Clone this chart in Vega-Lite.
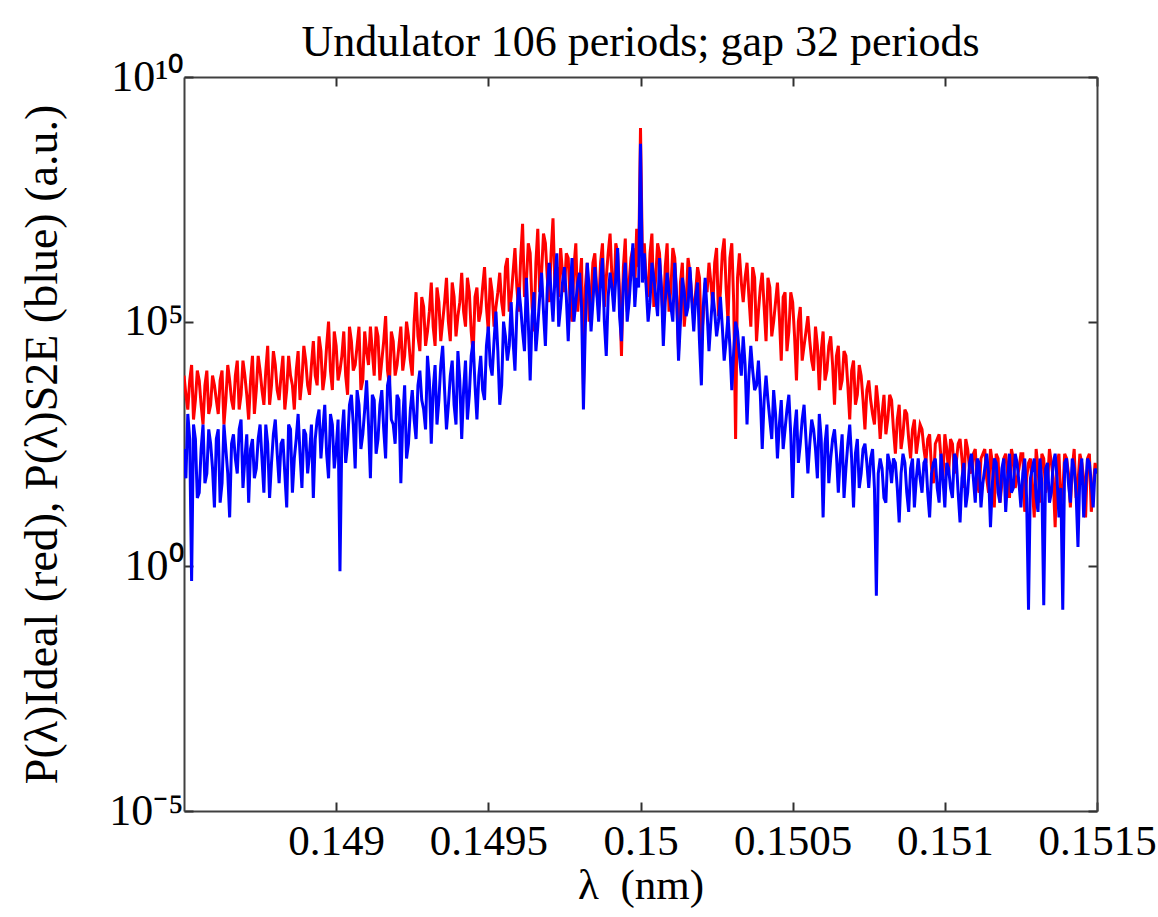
{
  "$schema": "https://vega.github.io/schema/vega-lite/v6.json",
  "autosize": {"type": "none"},
  "width": 913,
  "height": 734,
  "padding": {"left": 184, "top": 77, "right": 61, "bottom": 106},
  "background": "white",
  "config": {
    "font": "Liberation Serif, serif",
    "view": {"stroke": null},
    "title": {"font": "Liberation Serif, serif", "fontWeight": "normal"},
    "axis": {"grid": false, "domainColor": "#404040", "domainWidth": 2, "tickColor": "#303030", "tickWidth": 2, "labelColor": "black", "titleColor": "black", "labelFont": "Liberation Serif, serif", "titleFont": "Liberation Serif, serif", "titleFontWeight": "normal"}
  },
  "title": {"text": "Undulator 106 periods; gap 32 periods", "fontSize": 44, "fontWeight": "normal", "font": "Liberation Serif, serif", "color": "black", "anchor": "middle", "baseline": "alphabetic", "offset": -45},
  "data": {"values": [
    {"l":0.1485,"r":7.9e3,"b":2.5e2},{"l":0.1485125,"r":1.6e3,"b":1.3e3},{"l":0.148525,"r":1.3e4,"b":0.5},{"l":0.1485375,"r":2.5e3,"b":4e2},{"l":0.14855,"r":6.3e3,"b":32},{"l":0.1485625,"r":7.9e2,"b":7.9e2},{"l":0.148575,"r":1e4,"b":79},{"l":0.1485875,"r":2e3,"b":3.2e2},
    {"l":0.1486,"r":5e3,"b":16},{"l":0.1486125,"r":1.3e3,"b":6.3e2},{"l":0.148625,"r":1e4,"b":50},{"l":0.1486375,"r":2.5e3,"b":2.5e2},{"l":0.14865,"r":6.3e3,"b":10},{"l":0.1486625,"r":1.6e3,"b":5e2},{"l":0.148675,"r":1.6e4,"b":79},{"l":0.1486875,"r":3.2e3,"b":1e3},
    {"l":0.1487,"r":7.9e3,"b":1.6e2},{"l":0.1487125,"r":1e3,"b":20},{"l":0.148725,"r":2e4,"b":4e2},{"l":0.1487375,"r":4e3,"b":1e2},{"l":0.14875,"r":1e4,"b":7.9e2},{"l":0.1487625,"r":2e3,"b":32},{"l":0.148775,"r":3.2e4,"b":3.2e2},{"l":0.1487875,"r":5e3,"b":1.3e2},
    {"l":0.1488,"r":1.3e4,"b":1e3},{"l":0.1488125,"r":2.5e3,"b":50},{"l":0.148825,"r":2e4,"b":4e2},{"l":0.1488375,"r":4e3,"b":16},{"l":0.14885,"r":7.9e3,"b":6.3e2},{"l":0.1488625,"r":1.6e3,"b":1.6e2},{"l":0.148875,"r":2.5e4,"b":1.3e3},{"l":0.1488875,"r":6.3e3,"b":40},
    {"l":0.1489,"r":1.6e4,"b":5e2},{"l":0.1489125,"r":3.2e3,"b":2e2},{"l":0.148925,"r":4e4,"b":25},{"l":0.1489375,"r":5e3,"b":1e3},{"l":0.14895,"r":2.5e4,"b":1.6e2},{"l":0.1489625,"r":7.9e3,"b":2e3},{"l":0.148975,"r":1e5,"b":63},{"l":0.1489875,"r":4e3,"b":7.9e2},
    {"l":0.149,"r":3.2e4,"b":2.5e2},{"l":0.1490125,"r":1e4,"b":0.79},{"l":0.149025,"r":6.3e4,"b":1.6e3},{"l":0.1490375,"r":3.2e3,"b":3.2e2},{"l":0.14905,"r":4e4,"b":3.2e3},{"l":0.1490625,"r":1.3e4,"b":1e2},{"l":0.149075,"r":7.9e4,"b":2e3},{"l":0.1490875,"r":6.3e3,"b":5e2},
    {"l":0.1491,"r":2.5e4,"b":6.3e3},{"l":0.1491125,"r":7.9e4,"b":63},{"l":0.149125,"r":7.9e3,"b":2.5e3},{"l":0.1491375,"r":5e4,"b":4e2},{"l":0.14915,"r":1.6e4,"b":4e3},{"l":0.1491625,"r":1.3e5,"b":1.6e2},{"l":0.149175,"r":5e3,"b":7.9e3},{"l":0.1491875,"r":4e4,"b":7.9e2},
    {"l":0.1492,"r":1.3e4,"b":3.2e3},{"l":0.1492125,"r":7.9e4,"b":50},{"l":0.149225,"r":2e4,"b":5e3},{"l":0.1492375,"r":5e4,"b":3.2e2},{"l":0.14925,"r":7.9e3,"b":4e3},{"l":0.1492625,"r":4e5,"b":4e2},{"l":0.149275,"r":2.5e4,"b":1e4},{"l":0.1492875,"r":2e5,"b":1.6e3},
    {"l":0.1493,"r":6.3e4,"b":2e4},{"l":0.1493125,"r":6.3e5,"b":3.2e2},{"l":0.149325,"r":3.2e4,"b":1.3e4},{"l":0.1493375,"r":2.5e5,"b":2.5e3},{"l":0.14935,"r":1e5,"b":3.2e4},{"l":0.1493625,"r":7.9e5,"b":6.3e2},{"l":0.149375,"r":4e4,"b":7.9e3},{"l":0.1493875,"r":3.2e5,"b":2e3},
    {"l":0.1494,"r":1.3e5,"b":2.5e4},{"l":0.1494125,"r":1e6,"b":4e2},{"l":0.149425,"r":7.9e4,"b":1.6e4},{"l":0.1494375,"r":4e5,"b":3.2e3},{"l":0.14945,"r":2e4,"b":4e4},{"l":0.1494625,"r":5e5,"b":1e3},{"l":0.149475,"r":1.6e5,"b":2e4},{"l":0.1494875,"r":1.3e6,"b":2.5e3},
    {"l":0.1495,"r":6.3e4,"b":7.9e4},{"l":0.1495125,"r":4e5,"b":7.9e3},{"l":0.149525,"r":2e5,"b":1.6e5},{"l":0.1495375,"r":1e6,"b":2e3},{"l":0.14955,"r":1.3e5,"b":1e5},{"l":0.1495625,"r":2e6,"b":1.6e4},{"l":0.149575,"r":3.2e5,"b":2.5e5},{"l":0.1495875,"r":3.2e6,"b":1e4},
    {"l":0.1496,"r":1.6e5,"b":5e5},{"l":0.1496125,"r":1e7,"b":6.3e4},{"l":0.149625,"r":6.3e5,"b":7.9e5},{"l":0.1496375,"r":2.5e6,"b":6.3e3},{"l":0.14965,"r":6.3e4,"b":4e5},{"l":0.1496625,"r":7.9e6,"b":7.9e4},{"l":0.149675,"r":1e6,"b":1e6},{"l":0.1496875,"r":4e6,"b":3.2e4},
    {"l":0.1497,"r":2.5e5,"b":1.6e6},{"l":0.1497125,"r":1.3e7,"b":1e5},{"l":0.149725,"r":1.3e6,"b":2.5e6},{"l":0.1497375,"r":3.2e6,"b":2e5},{"l":0.14975,"r":4e5,"b":1.3e6},{"l":0.1497625,"r":2e6,"b":4e4},{"l":0.149775,"r":1e5,"b":2e6},{"l":0.1497875,"r":4e6,"b":2.5e5},
    {"l":0.1498,"r":6.3e5,"b":1e6},{"l":0.1498125,"r":4e3,"b":1.6e3},{"l":0.149825,"r":1.6e6,"b":1.6e6},{"l":0.1498375,"r":3.2e5,"b":6.3e4},{"l":0.14985,"r":2.5e6,"b":1.3e6},{"l":0.1498625,"r":2e5,"b":1e5},{"l":0.149875,"r":4e6,"b":2e6},{"l":0.1498875,"r":7.9e5,"b":2e4},
    {"l":0.1499,"r":6.3e6,"b":1e6},{"l":0.1499125,"r":2.5e5,"b":1.6e5},{"l":0.149925,"r":2.5e6,"b":3.2e6},{"l":0.1499375,"r":2e4,"b":4e4},{"l":0.14995,"r":5e6,"b":1.6e6},{"l":0.1499625,"r":6.3e5,"b":2.5e5},{"l":0.149975,"r":3.2e6,"b":4e6},{"l":0.1499875,"r":7.9e6,"b":7.9e5},
    {"l":0.15,"r":9.1e8,"b":4.3e8},{"l":0.1500125,"r":4e6,"b":2.5e6},{"l":0.150025,"r":3.2e5,"b":1e5},{"l":0.1500375,"r":6.3e6,"b":1.6e6},{"l":0.15005,"r":7.9e5,"b":3.2e5},{"l":0.1500625,"r":2.5e6,"b":2e6},{"l":0.150075,"r":1e5,"b":3.2e4},{"l":0.1500875,"r":4e6,"b":1e6},
    {"l":0.1501,"r":5e5,"b":2e5},{"l":0.1501125,"r":2e6,"b":1.6e6},{"l":0.150125,"r":2.5e4,"b":1.6e4},{"l":0.1501375,"r":1.6e6,"b":7.9e5},{"l":0.15015,"r":2.5e5,"b":1.3e5},{"l":0.1501625,"r":1e6,"b":1.3e6},{"l":0.150175,"r":1.3e5,"b":6.3e4},{"l":0.1501875,"r":1.3e6,"b":6.3e5},
    {"l":0.1502,"r":4e4,"b":5e3},{"l":0.1502125,"r":6.3e5,"b":7.9e5},{"l":0.150225,"r":1.6e6,"b":2.5e4},{"l":0.1502375,"r":2e5,"b":4e5},{"l":0.15025,"r":3.2e6,"b":5e4},{"l":0.1502625,"r":4e5,"b":3.2e5},{"l":0.150275,"r":5e6,"b":1.6e4},{"l":0.1502875,"r":1e5,"b":1.3e5},
    {"l":0.1503,"r":4e6,"b":4e3},{"l":0.1503125,"r":4e2,"b":1e5},{"l":0.150325,"r":2.5e6,"b":2e4},{"l":0.1503375,"r":2.5e5,"b":5e4},{"l":0.15035,"r":1.6e6,"b":7.9e2},{"l":0.1503625,"r":7.9e4,"b":3.2e4},{"l":0.150375,"r":7.9e5,"b":4e3},{"l":0.1503875,"r":1.6e5,"b":1.6e4},
    {"l":0.1504,"r":1e6,"b":2.5e2},{"l":0.1504125,"r":4e4,"b":7.9e3},{"l":0.150425,"r":5e5,"b":1e3},{"l":0.1504375,"r":1e5,"b":4e3},{"l":0.15045,"r":6.3e5,"b":1.6e2},{"l":0.1504625,"r":1.6e4,"b":2.5e3},{"l":0.150475,"r":4e5,"b":6.3e2},{"l":0.1504875,"r":6.3e4,"b":3.2e3},
    {"l":0.1505,"r":2.5e5,"b":25},{"l":0.1505125,"r":6.3e3,"b":1.6e3},{"l":0.150525,"r":2e5,"b":3.2e2},{"l":0.1505375,"r":3.2e4,"b":2e3},{"l":0.15055,"r":1.3e5,"b":79},{"l":0.1505625,"r":1.6e4,"b":1e3},{"l":0.150575,"r":7.9e4,"b":2.5e2},{"l":0.1505875,"r":4e3,"b":1.3e3},
    {"l":0.1506,"r":6.3e4,"b":10},{"l":0.1506125,"r":1e4,"b":7.9e2},{"l":0.150625,"r":5e4,"b":1.6e2},{"l":0.1506375,"r":2e3,"b":6.3e2},{"l":0.15065,"r":3.2e4,"b":32},{"l":0.1506625,"r":6.3e3,"b":5e2},{"l":0.150675,"r":2e4,"b":1e2},{"l":0.1506875,"r":1e3,"b":7.9e2},
    {"l":0.1507,"r":1.6e4,"b":16},{"l":0.1507125,"r":3.2e3,"b":4e2},{"l":0.150725,"r":7.9e3,"b":79},{"l":0.1507375,"r":6.3e2,"b":3.2e2},{"l":0.15075,"r":6.3e3,"b":40},{"l":0.1507625,"r":1.3e3,"b":2.5e2},{"l":0.150775,"r":5e3,"b":0.25},{"l":0.1507875,"r":4e2,"b":1.6e2},
    {"l":0.1508,"r":3.2e3,"b":25},{"l":0.1508125,"r":1e3,"b":2e2},{"l":0.150825,"r":2.5e3,"b":50},{"l":0.1508375,"r":2e2,"b":1.3e2},{"l":0.15085,"r":2e3,"b":7.9},{"l":0.1508625,"r":5e2,"b":2e2},{"l":0.150875,"r":1.3e3,"b":32},{"l":0.1508875,"r":1.6e2,"b":1e2},
    {"l":0.1509,"r":1e3,"b":16},{"l":0.1509125,"r":4e2,"b":1.6e2},{"l":0.150925,"r":6.3e2,"b":32},{"l":0.1509375,"r":1.3e2,"b":1.6e2},{"l":0.15095,"r":5e2,"b":10},{"l":0.1509625,"r":50,"b":1.3e2},{"l":0.150975,"r":4e2,"b":40},{"l":0.1509875,"r":1.6e2,"b":2e2},
    {"l":0.151,"r":5e2,"b":16},{"l":0.1510125,"r":79,"b":1e2},{"l":0.151025,"r":3.2e2,"b":25},{"l":0.1510375,"r":1.3e2,"b":1.6e2},{"l":0.15105,"r":4e2,"b":7.9},{"l":0.1510625,"r":40,"b":1.3e2},{"l":0.151075,"r":2.5e2,"b":32},{"l":0.1510875,"r":79,"b":2e2},
    {"l":0.1511,"r":2.5e2,"b":20},{"l":0.1511125,"r":32,"b":1.3e2},{"l":0.151125,"r":2e2,"b":50},{"l":0.1511375,"r":63,"b":2e2},{"l":0.15115,"r":2.5e2,"b":6.3},{"l":0.1511625,"r":16,"b":1.6e2},{"l":0.151175,"r":1.6e2,"b":32},{"l":0.1511875,"r":50,"b":1e2},
    {"l":0.1512,"r":2e2,"b":13},{"l":0.1512125,"r":25,"b":2e2},{"l":0.151225,"r":1.6e2,"b":40},{"l":0.1512375,"r":63,"b":1.3e2},{"l":0.15125,"r":2e2,"b":16},{"l":0.1512625,"r":13,"b":1.6e2},{"l":0.151275,"r":1.3e2,"b":0.13},{"l":0.1512875,"r":40,"b":1e2},
    {"l":0.1513,"r":2.5e2,"b":25},{"l":0.1513125,"r":20,"b":1.6e2},{"l":0.151325,"r":1.6e2,"b":0.16},{"l":0.1513375,"r":50,"b":1.3e2},{"l":0.15135,"r":1.3e2,"b":32},{"l":0.1513625,"r":6.3,"b":2e2},{"l":0.151375,"r":2e2,"b":10},{"l":0.1513875,"r":32,"b":0.13},
    {"l":0.1514,"r":1.6e2,"b":1.6e2},{"l":0.1514125,"r":16,"b":20},{"l":0.151425,"r":2.5e2,"b":1e2},{"l":0.1514375,"r":50,"b":2.5},{"l":0.15145,"r":1.3e2,"b":1.6e2},{"l":0.1514625,"r":10,"b":40},{"l":0.151475,"r":2e2,"b":1.3e2},{"l":0.1514875,"r":40,"b":16},
    {"l":0.1515,"r":79,"b":79},
    {"l":0.14850625,"r":3.2e3,"b":63},{"l":0.14851875,"r":6.3e3,"b":4e2},{"l":0.14853125,"r":1e3,"b":7.9e2},{"l":0.14854375,"r":1e4,"b":25},{"l":0.14855625,"r":2e3,"b":2.5e2},{"l":0.14856875,"r":5e3,"b":50},{"l":0.14858125,"r":1.3e3,"b":6.3e2},{"l":0.14859375,"r":7.9e3,"b":1e2},
    {"l":0.14860625,"r":2.5e3,"b":4e2},{"l":0.14861875,"r":6.3e3,"b":20},{"l":0.14863125,"r":7.9e2,"b":7.9e2},{"l":0.14864375,"r":1.3e4,"b":79},{"l":0.14865625,"r":2.5e3,"b":3.2e2},{"l":0.14866875,"r":7.9e3,"b":1.6e2},{"l":0.14868125,"r":1.6e3,"b":6.3e2},{"l":0.14869375,"r":1.6e4,"b":40},
    {"l":0.14870625,"r":3.2e3,"b":5e2},{"l":0.14871875,"r":6.3e3,"b":2.5e2},{"l":0.14873125,"r":1.3e3,"b":63},{"l":0.14874375,"r":2e4,"b":4e2},{"l":0.14875625,"r":4e3,"b":1.6e2},{"l":0.14876875,"r":1e4,"b":7.9e2},{"l":0.14878125,"r":2e3,"b":25},{"l":0.14879375,"r":2.5e4,"b":5e2},
    {"l":0.14880625,"r":4e3,"b":2e2},{"l":0.14881875,"r":7.9e3,"b":3.2e2},{"l":0.14883125,"r":1.6e3,"b":79},{"l":0.14884375,"r":2e4,"b":7.9e2},{"l":0.14885625,"r":5e3,"b":32},{"l":0.14886875,"r":1e4,"b":4e2},{"l":0.14888125,"r":2.5e3,"b":2e2},{"l":0.14889375,"r":3.2e4,"b":6.3e2},
    {"l":0.14890625,"r":5e3,"b":79},{"l":0.14891875,"r":1.3e4,"b":7.9e2},{"l":0.14893125,"r":7.9e3,"b":4e2},{"l":0.14894375,"r":5e4,"b":1.6e3},{"l":0.14895625,"r":4e3,"b":6.3e2},{"l":0.14896875,"r":3.2e4,"b":2e2},{"l":0.14898125,"r":1e4,"b":1.3e3},{"l":0.14899375,"r":6.3e4,"b":1e2},
    {"l":0.14900625,"r":6.3e3,"b":1e3},{"l":0.14901875,"r":2e4,"b":5e2},{"l":0.14903125,"r":7.9e3,"b":1.3e2},{"l":0.14904375,"r":7.9e4,"b":2e3},{"l":0.14905625,"r":1e4,"b":7.9e2},{"l":0.14906875,"r":3.2e4,"b":4e3},{"l":0.14908125,"r":4e3,"b":2.5e2},{"l":0.14909375,"r":6.3e4,"b":1.6e3},
    {"l":0.14910625,"r":1.3e4,"b":7.9e2},{"l":0.14911875,"r":2.5e4,"b":3.2e3},{"l":0.14913125,"r":7.9e4,"b":2e2},{"l":0.14914375,"r":6.3e3,"b":2e3},{"l":0.14915625,"r":4e4,"b":6.3e2},{"l":0.14916875,"r":1e4,"b":5e3},{"l":0.14918125,"r":6.3e4,"b":1e3},{"l":0.14919375,"r":7.9e3,"b":3.2e2},
    {"l":0.14920625,"r":3.2e4,"b":2.5e3},{"l":0.14921875,"r":1e4,"b":1e3},{"l":0.14923125,"r":1e5,"b":1.6e2},{"l":0.14924375,"r":1.6e4,"b":1.6e3},{"l":0.14925625,"r":1e5,"b":1e3},{"l":0.14926875,"r":5e4,"b":5e3},{"l":0.14928125,"r":3.2e5,"b":2.5e3},{"l":0.14929375,"r":3.2e4,"b":6.3e2},
    {"l":0.14930625,"r":1.6e5,"b":6.3e3},{"l":0.14931875,"r":7.9e4,"b":4e3},{"l":0.14933125,"r":5e5,"b":7.9e2},{"l":0.14934375,"r":4e4,"b":1.3e4},{"l":0.14935625,"r":2.5e5,"b":4e3},{"l":0.14936875,"r":1e5,"b":2e3},{"l":0.14938125,"r":6.3e5,"b":1.6e4},{"l":0.14939375,"r":5e4,"b":7.9e2},
    {"l":0.14940625,"r":2.5e5,"b":6.3e3},{"l":0.14941875,"r":1.6e5,"b":4e3},{"l":0.14943125,"r":7.9e5,"b":1e3},{"l":0.14944375,"r":6.3e4,"b":2e4},{"l":0.14945625,"r":3.2e5,"b":5e3},{"l":0.14946875,"r":1e5,"b":7.9e3},{"l":0.14948125,"r":5e5,"b":4e3},{"l":0.14949375,"r":2e5,"b":3.2e4},
    {"l":0.14950625,"r":7.9e5,"b":1.3e4},{"l":0.14951875,"r":7.9e4,"b":4e4},{"l":0.14953125,"r":4e5,"b":2.5e4},{"l":0.14954375,"r":2.5e5,"b":5e3},{"l":0.14955625,"r":1.3e6,"b":5e4},{"l":0.14956875,"r":1.6e5,"b":3.2e4},{"l":0.14958125,"r":1e6,"b":4e4},{"l":0.14959375,"r":5e5,"b":1.6e5},
    {"l":0.14960625,"r":2e6,"b":2e5},{"l":0.14961875,"r":3.2e5,"b":2.5e4},{"l":0.14963125,"r":4e6,"b":1e5},{"l":0.14964375,"r":2e5,"b":1.3e5},{"l":0.14965625,"r":1.6e6,"b":2.5e4},{"l":0.14966875,"r":4e5,"b":3.2e5},{"l":0.14968125,"r":6.3e6,"b":1.6e5},{"l":0.14969375,"r":7.9e5,"b":5e5},
    {"l":0.14970625,"r":2.5e6,"b":4e5},{"l":0.14971875,"r":5e5,"b":7.9e5},{"l":0.14973125,"r":3.2e5,"b":7.9e4},{"l":0.14974375,"r":1e6,"b":6.3e5},{"l":0.14975625,"r":2.5e6,"b":3.2e5},{"l":0.14976875,"r":2.5e5,"b":4e5},{"l":0.14978125,"r":1.3e6,"b":1e5},{"l":0.14979375,"r":1.6e5,"b":6.3e5},
    {"l":0.14980625,"r":2e6,"b":2e5},{"l":0.14981875,"r":5e5,"b":7.9e4},{"l":0.14983125,"r":1e5,"b":5e5},{"l":0.14984375,"r":1.6e6,"b":2.5e5},{"l":0.14985625,"r":4e5,"b":4e5},{"l":0.14986875,"r":1.6e6,"b":6.3e5},{"l":0.14988125,"r":2e5,"b":1e5},{"l":0.14989375,"r":2.5e6,"b":3.2e5},
    {"l":0.14990625,"r":7.9e5,"b":5e5},{"l":0.14991875,"r":4e6,"b":7.9e5},{"l":0.14993125,"r":4e5,"b":1.3e5},{"l":0.14994375,"r":1.3e6,"b":6.3e5},{"l":0.14995625,"r":1.6e5,"b":1e5},{"l":0.14996875,"r":2e6,"b":1e6},{"l":0.14998125,"r":5e5,"b":2e5},{"l":0.14999375,"r":1.3e6,"b":5e5},
    {"l":0.15000625,"r":2e6,"b":6.3e5},{"l":0.15001875,"r":6.3e5,"b":5e5},{"l":0.15003125,"r":2.5e6,"b":2.5e5},{"l":0.15004375,"r":2e5,"b":7.9e5},{"l":0.15005625,"r":4e6,"b":1.3e5},{"l":0.15006875,"r":4e5,"b":5e5},{"l":0.15008125,"r":1.3e6,"b":2.5e5},{"l":0.15009375,"r":1.6e5,"b":4e5},
    {"l":0.15010625,"r":3.2e6,"b":1e5},{"l":0.15011875,"r":3.2e5,"b":3.2e5},{"l":0.15013125,"r":6.3e5,"b":1e5},{"l":0.15014375,"r":7.9e4,"b":4e5},{"l":0.15015625,"r":2e6,"b":2e5},{"l":0.15016875,"r":3.2e5,"b":2.5e5},{"l":0.15018125,"r":4e5,"b":3.2e5},{"l":0.15019375,"r":7.9e5,"b":4e4},
    {"l":0.15020625,"r":1.3e5,"b":2e5},{"l":0.15021875,"r":4e5,"b":1.6e5},{"l":0.15023125,"r":6.3e5,"b":1e5},{"l":0.15024375,"r":1.6e6,"b":1.6e5},{"l":0.15025625,"r":1.3e5,"b":1e5},{"l":0.15026875,"r":2.5e6,"b":7.9e4},{"l":0.15028125,"r":5e5,"b":4e4},{"l":0.15029375,"r":2e6,"b":3.2e4},
    {"l":0.15030625,"r":2.5e5,"b":2.5e4},{"l":0.15031875,"r":7.9e5,"b":6.3e4},{"l":0.15033125,"r":6.3e5,"b":7.9e3},{"l":0.15034375,"r":7.9e5,"b":1.3e4},{"l":0.15035625,"r":3.2e5,"b":7.9e3},{"l":0.15036875,"r":1.3e6,"b":1e4},{"l":0.15038125,"r":4e4,"b":5e3},{"l":0.15039375,"r":5e5,"b":3.2e3},
    {"l":0.15040625,"r":2e5,"b":2.5e3},{"l":0.15041875,"r":7.9e5,"b":2.5e3},{"l":0.15043125,"r":5e4,"b":4e2},{"l":0.15044375,"r":2.5e5,"b":1.3e3},{"l":0.15045625,"r":1.3e5,"b":7.9e2},{"l":0.15046875,"r":3.2e5,"b":2.5e2},{"l":0.15048125,"r":2.5e4,"b":1.6e3},{"l":0.15049375,"r":4e5,"b":5e2},
    {"l":0.15050625,"r":5e4,"b":6.3e2},{"l":0.15051875,"r":1e5,"b":1.3e2},{"l":0.15053125,"r":1.6e4,"b":1e3},{"l":0.15054375,"r":6.3e4,"b":4e2},{"l":0.15055625,"r":4e4,"b":3.2e2},{"l":0.15056875,"r":1e4,"b":6.3e2},{"l":0.15058125,"r":3.2e4,"b":63},{"l":0.15059375,"r":2.5e4,"b":4e2},
    {"l":0.15060625,"r":6.3e3,"b":3.2e2},{"l":0.15061875,"r":3.2e4,"b":50},{"l":0.15063125,"r":1.3e4,"b":4e2},{"l":0.15064375,"r":2e4,"b":2e2},{"l":0.15065625,"r":4e3,"b":1.6e2},{"l":0.15066875,"r":2.5e4,"b":25},{"l":0.15068125,"r":5e3,"b":3.2e2},{"l":0.15069375,"r":1e4,"b":1.6e2},
    {"l":0.15070625,"r":2e3,"b":2e2},{"l":0.15071875,"r":1.3e4,"b":40},{"l":0.15073125,"r":2.5e3,"b":2.5e2},{"l":0.15074375,"r":4e3,"b":1.3e2},{"l":0.15075625,"r":2.5e3,"b":1.6e2},{"l":0.15076875,"r":7.9e2,"b":40},{"l":0.15078125,"r":2e3,"b":79},{"l":0.15079375,"r":1.3e3,"b":1e2},
    {"l":0.15080625,"r":5e2,"b":20},{"l":0.15081875,"r":3.2e3,"b":1.3e2},{"l":0.15083125,"r":6.3e2,"b":1.6e2},{"l":0.15084375,"r":1e3,"b":40},{"l":0.15085625,"r":2.5e2,"b":79},{"l":0.15086875,"r":1.6e3,"b":1.3e2},{"l":0.15088125,"r":4e2,"b":13},{"l":0.15089375,"r":6.3e2,"b":1.6e2},
    {"l":0.15090625,"r":2e2,"b":63},{"l":0.15091875,"r":7.9e2,"b":63},{"l":0.15093125,"r":2.5e2,"b":1.3e2},{"l":0.15094375,"r":4e2,"b":32},{"l":0.15095625,"r":1e2,"b":79},{"l":0.15096875,"r":3.2e2,"b":1.6e2},{"l":0.15098125,"r":5e2,"b":20},{"l":0.15099375,"r":63,"b":63},
    {"l":0.15100625,"r":2.5e2,"b":1.3e2},{"l":0.15101875,"r":4e2,"b":40},{"l":0.15103125,"r":79,"b":2e2},{"l":0.15104375,"r":3.2e2,"b":32},{"l":0.15105625,"r":1.6e2,"b":63},{"l":0.15106875,"r":4e2,"b":16},{"l":0.15108125,"r":1e2,"b":1.3e2},{"l":0.15109375,"r":2e2,"b":63},
    {"l":0.15110625,"r":50,"b":1.6e2},{"l":0.15111875,"r":1.6e2,"b":16},{"l":0.15113125,"r":2.5e2,"b":1e2},{"l":0.15114375,"r":32,"b":79},{"l":0.15115625,"r":1.3e2,"b":50},{"l":0.15116875,"r":2e2,"b":1.3e2},{"l":0.15118125,"r":20,"b":20},{"l":0.15119375,"r":1.6e2,"b":1.6e2},
    {"l":0.15120625,"r":79,"b":63},{"l":0.15121875,"r":2.5e2,"b":32},{"l":0.15123125,"r":40,"b":2e2},{"l":0.15124375,"r":1e2,"b":50},{"l":0.15125625,"r":2e2,"b":79},{"l":0.15126875,"r":63,"b":25},{"l":0.15128125,"r":1.6e2,"b":63},{"l":0.15129375,"r":10,"b":1.6e2},
    {"l":0.15130625,"r":1e2,"b":13},{"l":0.15131875,"r":2e2,"b":50},{"l":0.15133125,"r":32,"b":1e2},{"l":0.15134375,"r":2.5e2,"b":20},{"l":0.15135625,"r":63,"b":1.3e2},{"l":0.15136875,"r":1.3e2,"b":63},{"l":0.15138125,"r":20,"b":40},{"l":0.15139375,"r":2e2,"b":1.3e2},
    {"l":0.15140625,"r":79,"b":50},{"l":0.15141875,"r":1e2,"b":1.6e2},{"l":0.15143125,"r":25,"b":32},{"l":0.15144375,"r":2e2,"b":79},{"l":0.15145625,"r":63,"b":10},{"l":0.15146875,"r":1.6e2,"b":1.6e2},{"l":0.15148125,"r":13,"b":50},{"l":0.15149375,"r":1.3e2,"b":1e2}
  ]},
  "resolve": {"axis": {"x": "independent", "y": "independent"}},
  "layer": [
    {
      "mark": {"type": "line", "color": "#ff0000", "strokeWidth": 3, "clip": true},
      "encoding": {
        "x": {"field": "l", "type": "quantitative",
          "scale": {"domain": [0.1485, 0.1515], "nice": false, "zero": false},
          "axis": {"orient": "bottom", "values": [0.149, 0.1495, 0.15, 0.1505, 0.151, 0.1515], "format": "~g", "tickSize": -9, "labelFontSize": 43, "labelBaseline": "alphabetic", "labelPadding": 52, "labelFlush": false, "labelOverlap": false, "title": "λ\u00a0\u00a0(nm)", "titleFont": "Liberation Serif, serif", "titleFontSize": 43, "titlePadding": 1}},
        "y": {"field": "r", "type": "quantitative",
          "scale": {"type": "log", "domain": [1e-5, 1e10], "nice": false},
          "axis": {"orient": "left", "values": [1e-5, 1, 1e5, 1e10], "tickSize": -9, "labelFontSize": 44, "labelPadding": 10, "labelFlush": false, "labelOverlap": false,
            "labelExpr": "datum.value >= 1e9 ? '10¹⁰' : datum.value >= 1e4 ? '10⁵' : datum.value >= 0.5 ? '10⁰' : '10⁻⁵'",
            "title": "P(λ)Ideal (red), P(λ)S2E (blue) (a.u.)", "titleFont": "Liberation Serif, serif", "titleFontSize": 46, "titlePadding": 42}}
      }
    },
    {
      "mark": {"type": "line", "color": "#0000ff", "strokeWidth": 3, "clip": true},
      "encoding": {
        "x": {"field": "l", "type": "quantitative",
          "scale": {"domain": [0.1485, 0.1515], "nice": false, "zero": false},
          "axis": {"orient": "top", "values": [0.149, 0.1495, 0.15, 0.1505, 0.151, 0.1515], "tickSize": -9, "labels": false, "title": null}},
        "y": {"field": "b", "type": "quantitative",
          "scale": {"type": "log", "domain": [1e-5, 1e10], "nice": false},
          "axis": {"orient": "right", "values": [1e-5, 1, 1e5, 1e10], "tickSize": -9, "labels": false, "title": null}}
      }
    }
  ]
}
